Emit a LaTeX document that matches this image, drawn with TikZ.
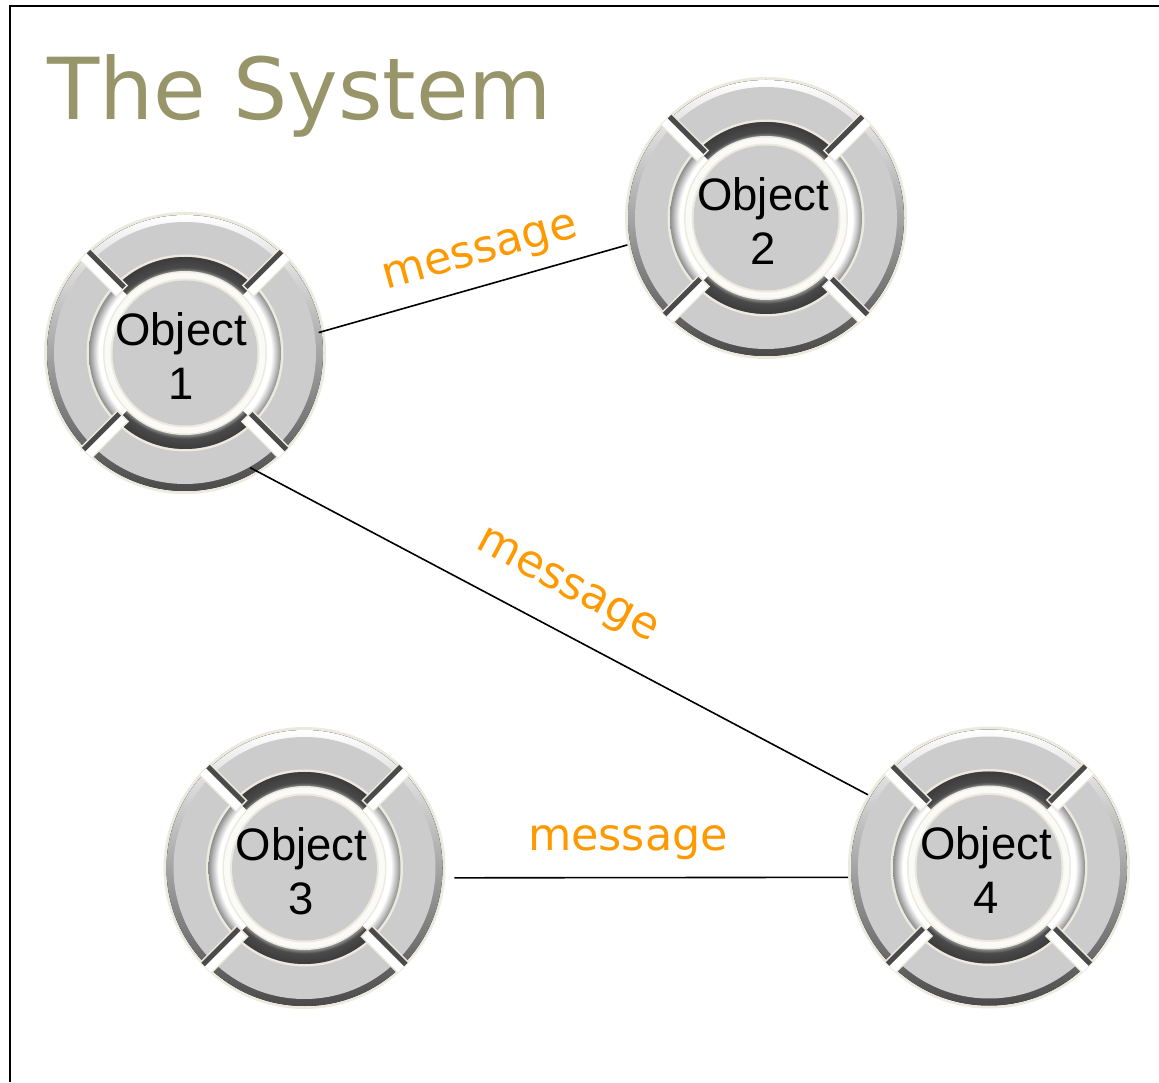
\documentclass[tikz,border=0pt]{standalone}
\usepackage{fontspec}
\newfontfamily\titlefont{DejaVu Sans}
\newfontfamily\objfont{Liberation Sans}

\definecolor{titleolive}{HTML}{99956A}
\definecolor{msgorange}{HTML}{FF9900}
\definecolor{discgray}{HTML}{CCCCCC}
\definecolor{cream}{HTML}{ECEADF}
\definecolor{rimdark}{HTML}{4A4A4A}
\definecolor{metaldark}{HTML}{3C3C3C}
\definecolor{metalmid}{HTML}{8E8E8E}
\definecolor{ringwhite}{HTML}{FAFAF7}

% metal ring: the circle of radius 96 maps to 25bp, the inner edge (r=82) to about 21.3bp
\pgfdeclareradialshading{metalside}{\pgfpoint{0bp}{0bp}}{%
  color(0bp)=(white); color(21.3bp)=(white); color(22.5bp)=(white);
  color(25bp)=(metalmid); color(50bp)=(metalmid)}
\pgfdeclareradialshading{metaltb}{\pgfpoint{0bp}{0bp}}{%
  color(0bp)=(metalmid); color(21.3bp)=(metalmid); color(22.3bp)=(rimdark);
  color(25bp)=(metaldark); color(50bp)=(metaldark)}

\tikzset{
  x=1pt, y=1pt,
  % the ringed disc drawn behind every object
  disc/.pic={
    \fill[cream] (0,0) circle (141);
    \fill[top color=white, middle color=gray!30, bottom color=rimdark] (0,0) circle (138);
    \fill[discgray] (0,0) circle (131);
    \fill[cream] (0,0) circle (98.5);
    \shade[shading=metalside] (0,0) circle (96);
    \begin{scope}
      \clip (0,0) -- (45:110) arc (45:135:110) -- cycle
            (0,0) -- (225:110) arc (225:315:110) -- cycle;
      \shade[shading=metaltb] (0,0) circle (96);
    \end{scope}
    \fill[cream] (0,0) circle (82);
    \fill[ringwhite] (0,0) circle (80.5);
    \fill[cream] (0,0) circle (74.5);
    \fill[discgray] (0,0) circle (72.5);
    % the four diagonal gaps between the outer segments
    \begin{scope}
      \clip (0,0) circle (140);
      \foreach \a/\s in {45/1,135/-1,225/-1,315/1}{
        \begin{scope}[rotate=\a, yscale=\s]
          \fill[cream] (88,-9) rectangle (145,7.5);
          \fill[white] (89.5,-7.5) rectangle (145,1);
          \fill[rimdark] (89.5,1) rectangle (145,6);
        \end{scope}
      }
    \end{scope}
  },
  objnode/.style={circle, minimum size=282pt, inner sep=0pt},
  objtext/.style={inner sep=0pt, align=center,
    font=\objfont\fontsize{45.5}{54}\selectfont},
  msglabel/.style={inner sep=0pt, text=msgorange,
    font=\titlefont\fontsize{44.5}{50}\selectfont},
  link/.style={line width=1.6pt, black},
}

\begin{document}
\begin{tikzpicture}
  \useasboundingbox (0,0) rectangle (1159,1082);
  \fill[white] (0,0) rectangle (1159,1082);

  % frame
  \draw[line width=2.5pt] (10,0) -- (10,1076) -- (1159,1076);

  % title
  \node[anchor=base west, inner sep=0pt, text=titleolive,
        font=\titlefont\fontsize{85.5}{100}\selectfont] (title) at (47,962) {The System};

  % objects: ringed disc, outline node and its caption
  \pic at (185,729) {disc};
  \node[objnode] (o1) at (185,729) {};
  \node[objtext] (t1) at ([shift={(-4,-3)}]o1.center) {Object\\1};
  \pic at (766,864) {disc};
  \node[objnode] (o2) at (766,864) {};
  \node[objtext] (t2) at ([shift={(-3,-3)}]o2.center) {Object\\2};
  \pic at (304.5,214) {disc};
  \node[objnode] (o3) at (304.5,214) {};
  \node[objtext] (t3) at ([shift={(-3,-3)}]o3.center) {Object\\3};
  \pic at (989,214.5) {disc};
  \node[objnode] (o4) at (989,214.5) {};
  \node[objtext] (t4) at ([shift={(-3,-3)}]o4.center) {Object\\4};

  % messages between the objects
  \draw[link, shorten <=-6pt] (o1.9.4) -- (o2.191.8);
  \draw[link, shorten <=-11pt] (o1.302.2) -- (o4.149.5);
  \draw[link, shorten <=9pt] (o3.-4.9) -- (o4.184.9);

  \node[msglabel, rotate=15.5] (m12) at (481,827) {message};
  \node[msglabel, rotate=-28] (m14) at (566,494) {message};
  \node[msglabel, anchor=base] (m34) at (628,231) {message};
\end{tikzpicture}
\end{document}
